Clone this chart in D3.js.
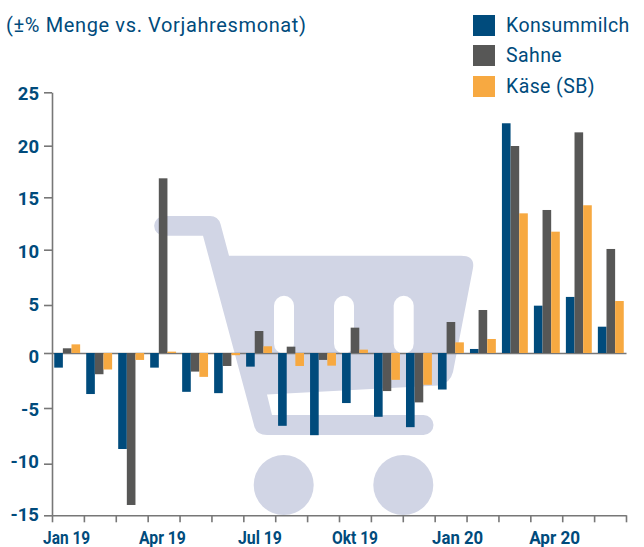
<!DOCTYPE html>
<html><head><meta charset="utf-8">
<script src="https://cdn.jsdelivr.net/npm/d3@7"></script>
<style>html,body{margin:0;padding:0;background:#fff}svg{display:block}text{font-family:Roboto,sans-serif;fill:#004b7c}</style>
</head><body><svg id="c" width="644" height="547"></svg>
<script>
const months = ["Jan 19","Feb 19","Mrz 19","Apr 19","Mai 19","Jun 19","Jul 19","Aug 19","Sep 19","Okt 19","Nov 19","Dez 19","Jan 20","Feb 20","Mrz 20","Apr 20","Mai 20","Jun 20"];
const seriesNames = ["Konsummilch","Sahne","Käse (SB)"];
const konsummilch = [-1.33,-3.73,-8.68,-1.33,-3.53,-3.65,-1.24,-6.6,-7.44,-4.55,-5.79,-6.72,-3.32,0.42,22.1,4.93,5.73,2.74];
const sahne = [0.49,-1.93,-14.0,16.84,-1.69,-1.18,2.29,0.66,-0.63,2.64,-3.46,-4.49,3.23,4.48,19.97,13.79,21.25,10.07];
const kaese = [0.9,-1.5,-0.63,0.14,-2.17,-0.2,0.7,-1.18,-1.15,0.35,-2.44,-2.89,1.11,1.46,13.47,11.72,14.24,5.36];
const colors = ["#004b7c","#575756","#f7a941"];
const yTicks = [25,20,15,10,5,0,-5,-10,-15];
const xLabels = ["Jan 19","Apr 19","Jul 19","Okt 19","Jan 20","Apr 20"];
const title = "(±% Menge vs. Vorjahresmonat)";

const svg = d3.select("#c");
const series = [konsummilch, sahne, kaese];
const L = 52, R = 626;
// the printed axis has slightly uneven tick spacing, so it is piecewise
const y = d3.scaleLinear().domain(yTicks).range([92.3,145.7,197.3,249.7,305,353,408,463.7,515.3]);
const yLabel = d3.scaleLinear().domain([25,-15]).range([100,521]);
const x0 = d3.scaleBand().domain(months).range([L,R]).paddingInner(.19).paddingOuter(.07);
const x1 = d3.scaleBand().domain(d3.range(3)).range([0,x0.bandwidth()]);
const xT = d3.scaleLinear().domain([0,months.length]).range([L,R]);

// shopping cart watermark
const cart = svg.append("g").attr("fill","#d1d5e5");
cart.append("path").attr("d",
 "M164,216 H210 Q218,216 220.5,224 L229,255.7 H461 Q475,255.7 473,268 L453,372 Q450,384 438,385.5 L267,394.5 L272,415 H423.5 A10,10 0 0 1 423.5,435 H267 Q257,435 254.5,427 L203,235.7 H164 A9.85,9.85 0 0 1 164,216 Z");
cart.selectAll("rect").data([274,334,393.7]).join("rect")
 .attr("x",d=>d).attr("y",295.7).attr("width",20).attr("height",58).attr("rx",10).attr("fill","#fff");
cart.selectAll("circle").data([283.7,403.3]).join("circle")
 .attr("cx",d=>d).attr("cy",485).attr("r",30);

// axes
const axCol = "#777";
const gy = svg.append("g").attr("transform",`translate(${L},0)`)
 .call(d3.axisLeft(y).tickValues(yTicks).tickSize(8).tickSizeOuter(0).tickFormat(""));
const gx = svg.append("g").attr("transform",`translate(0,${y(-15)})`)
 .call(d3.axisBottom(xT).tickValues(d3.range(months.length+1)).tickSize(7).tickSizeOuter(0).tickFormat(""));
const g0 = svg.append("g").attr("transform",`translate(0,${y(0)})`)
 .call(d3.axisBottom(xT).tickValues([]).tickSize(0).tickSizeOuter(0));
[gy,gx,g0].forEach(g=>{g.selectAll("path,line").attr("stroke",axCol).attr("stroke-width",1.6);});

// bars
series.forEach((vals,s)=>{
 svg.append("g").attr("fill",colors[s]).selectAll("rect").data(vals).join("rect")
  .attr("x",(d,i)=>x0(months[i])+x1(s))
  .attr("width",x1.bandwidth())
  .attr("y",d=>Math.min(y(d),y(0)))
  .attr("height",d=>Math.abs(y(d)-y(0)));
});

// y labels
svg.append("g").selectAll("text").data(yTicks).join("text")
 .attr("x",39).attr("y",d=>yLabel(d)).attr("text-anchor","end")
 .attr("font-size",18.5).attr("font-weight",700).text(d=>d);

// x labels
const nudge = [-.6,-.7,.9,0,6.7,7.8];
const labelWidth = [47,47,44,46,51,51];
svg.append("g").selectAll("text").data(xLabels).join("text")
 .attr("x",(d,i)=>x0(d)+x0.bandwidth()/2+nudge[i]).attr("y",543.5)
 .attr("text-anchor","middle").attr("font-size",17.8).attr("font-weight",700)
 .attr("textLength",(d,i)=>labelWidth[i]).attr("lengthAdjust","spacingAndGlyphs").text(d=>d);

// title
svg.append("text").attr("x",6).attr("y",32.3).attr("font-size",20).attr("letter-spacing",.63).text(title);

// legend
const leg = svg.append("g").selectAll("g").data(seriesNames).join("g")
 .attr("transform",(d,i)=>`translate(0,${[15,45,76][i]})`);
leg.append("rect").attr("x",473).attr("width",22).attr("height",21).attr("fill",(d,i)=>colors[i]);
leg.append("text").attr("x",506).attr("y",16.5).attr("font-size",19.5).attr("letter-spacing",.4).text(d=>d);
</script></body></html>
